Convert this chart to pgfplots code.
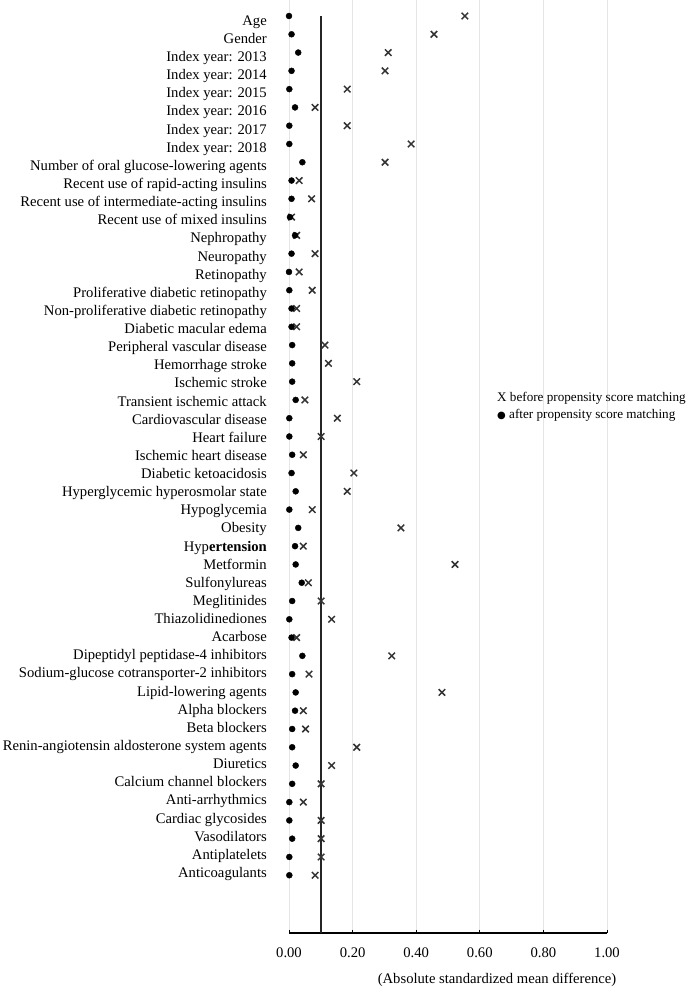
\documentclass[border=0pt]{standalone}
\usepackage{pgfplots}
\usepackage{pgfplotstable}
\pgfplotsset{compat=1.18}
\usepackage{fontspec}
\setmainfont{Liberation Serif}
\newfontfamily\dejavu{DejaVu Sans}

% absolute standardized mean difference, before / after matching
\pgfplotstableread{
idx before after
0  0.553 0.000
1  0.456 0.008
2  0.312 0.029
3  0.302 0.008
4  0.183 0.001
5  0.082 0.019
6  0.183 0.001
7  0.384 0.001
8  0.302 0.042
9  0.032 0.008
10 0.071 0.008
11 0.008 0.003
12 0.024 0.019
13 0.082 0.008
14 0.032 0.000
15 0.073 0.001
16 0.024 0.008
17 0.024 0.008
18 0.113 0.010
19 0.124 0.010
20 0.213 0.010
21 0.050 0.021
22 0.152 0.001
23 0.101 0.001
24 0.045 0.010
25 0.204 0.008
26 0.183 0.021
27 0.073 0.001
28 0.352 0.029
29 0.045 0.019
30 0.522 0.021
31 0.061 0.040
32 0.101 0.010
33 0.134 0.001
34 0.024 0.008
35 0.323 0.042
36 0.063 0.010
37 0.481 0.021
38 0.045 0.019
39 0.052 0.010
40 0.213 0.010
41 0.134 0.021
42 0.101 0.010
43 0.045 0.001
44 0.101 0.001
45 0.101 0.010
46 0.101 0.001
47 0.082 0.001
}\smd

\newcommand\lf{\fontsize{14.7}{17}\selectfont}

\begin{document}
\begin{tikzpicture}
\useasboundingbox (0,0) rectangle (688bp,992bp);
\clip (0,0) rectangle (688bp,992bp);
\begin{axis}[
  at={(289bp,59bp)}, anchor=south west,
  scale only axis, width=318bp, height=933bp,
  xmin=0, xmax=1, ymin=-0.875, ymax=50.16, y dir=reverse,
  clip=false,
  axis x line*=bottom, axis y line*=left,
  y axis line style={draw=none},
  x axis line style={line width=1.2bp, black},
  xtick={0,0.2,0.4,0.6,0.8,1},
  /pgf/number format/fixed, /pgf/number format/fixed zerofill,
  /pgf/number format/precision=2, /pgf/number format/assume math mode=true,
  xticklabel style={font=\lf, anchor=north, inner sep=0pt, yshift=-15bp},
  tick align=inside, major tick length=3bp,
  xtick style={black, line width=1bp},
  xmajorgrids, major grid style={black!10, line width=1bp},
  ytick={0,...,47}, ytick style={draw=none},
  yticklabel style={font=\lf, anchor=base east, inner sep=0pt, xshift=-22bp,
    yshift={(-9.35+0.153*\ticknum)*1bp}},
  yticklabels={Age, Gender, Index year: 2013, Index year: 2014, Index year: 2015,
    Index year: 2016, Index year: 2017, Index year: 2018,
    Number of oral glucose-lowering agents, Recent use of rapid-acting insulins,
    Recent use of intermediate-acting insulins, Recent use of mixed insulins,
    Nephropathy, Neuropathy, Retinopathy, Proliferative diabetic retinopathy,
    Non-proliferative diabetic retinopathy, Diabetic macular edema,
    Peripheral vascular disease, Hemorrhage stroke, Ischemic stroke,
    Transient ischemic attack, Cardiovascular disease, Heart failure,
    Ischemic heart disease, Diabetic ketoacidosis, Hyperglycemic hyperosmolar state,
    Hypoglycemia\ , Obesity, Hyp\textbf{ertension}, Metformin, Sulfonylureas,
    Meglitinides, Thiazolidinediones, Acarbose, Dipeptidyl peptidase-4 inhibitors,
    Sodium-glucose cotransporter-2 inhibitors, Lipid-lowering agents, Alpha blockers,
    Beta blockers, Renin-angiotensin aldosterone system agents, Diuretics,
    Calcium channel blockers, Anti-arrhythmics, Cardiac glycosides, Vasodilators,
    Antiplatelets, Anticoagulants},
]
\addplot[black!85, line width=1.4bp] coordinates {(0.1,0) (0.1,50.16)};
\addplot[only marks, mark=x, mark size=4.6bp, mark options={line width=1.5bp, draw=black!80}]
  table[x=before, y=idx]{\smd};
\addplot[only marks, mark=*, mark size=3bp, black]
  table[x=after, y=idx]{\smd};
\end{axis}
\node[anchor=west, align=left, inner sep=0pt, font=\fontsize{13.2}{17}\selectfont] at (497bp,585.5bp)
  {X before propensity score matching\\{\dejavu\fontsize{10}{17}\selectfont ●} after propensity score matching};
\node[font=\lf] at (497bp,12bp) {(Absolute standardized mean difference)};
\end{tikzpicture}
\end{document}
